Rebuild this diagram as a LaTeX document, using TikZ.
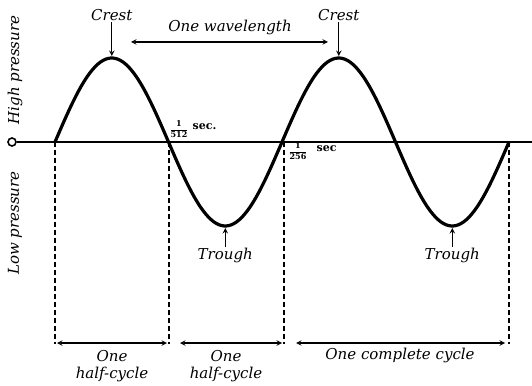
\documentclass[tikz,border=0pt]{standalone}
\usepackage{fontspec}
\usepackage{amsmath}
\setmainfont{DejaVu Serif}
\usetikzlibrary{positioning}
\begin{document}
\begin{tikzpicture}[x=1pt, y=1pt,
    wave/.style={line width=3.2pt, line join=round},
    axisline/.style={line width=2pt},
    guide/.style={line width=1.2pt, dash pattern=on 5pt off 3pt},
    span/.style={stealth-stealth, line width=1.4pt},
    pointer/.style={-stealth, line width=1.4pt},
    lbl/.style={font=\fontsize{15}{17}\selectfont\itshape, inner sep=1pt},
    small/.style={font=\fontsize{8}{9}\selectfont\bfseries, inner sep=0.5pt},
    unit/.style={font=\fontsize{11}{12}\selectfont\bfseries, inner sep=0.5pt}]
  \useasboundingbox (-55,-243) rectangle (477,142);

  % axis
  \node[draw, circle, line width=1.6pt, minimum size=8pt, inner sep=0pt] (origin) at (-43,0) {};
  \coordinate (axisend) at (477,0);
  \draw[axisline] (origin) -- (axisend);

  % the wave
  \draw[wave] plot[domain=0:454, samples=181, smooth] (\x, {84*sin(\x/227*360)});

  \coordinate (crestA) at (56.75,86);
  \coordinate (troughA) at (170.25,-86);
  \coordinate (crestB) at (283.75,86);
  \coordinate (troughB) at (397.25,-86);

  % dashed guides down to the cycle arrows
  \foreach \name/\xx in {zA/0, zB/114, zC/229, zD/454} {
    \coordinate (\name) at (\xx,0);
    \coordinate (\name low) at (\xx,-202);
    \draw[guide] (\name) -- (\name low);
  }

  % crests and troughs
  \node[lbl, above=34pt of crestA] (crestAlbl) {Crest};
  \node[lbl, above=34pt of crestB] (crestBlbl) {Crest};
  \draw[pointer] (crestAlbl) -- (crestA);
  \draw[pointer] (crestBlbl) -- (crestB);
  \node[lbl, below=19pt of troughA] (troughAlbl) {Trough};
  \node[lbl, below=19pt of troughB] (troughBlbl) {Trough};
  \draw[pointer] (troughAlbl) -- (troughA);
  \draw[pointer] (troughBlbl) -- (troughB);

  % wavelength
  \node[lbl] (wavelbl) at (175,115) {One wavelength};
  \coordinate (waveL) at (76,100);
  \coordinate (waveR) at (273,100);
  \draw[span] (waveL) -- (waveR);

  % times
  \node[small] (fracA) at (124,13) {$\dfrac{\mathbf{1}}{\mathbf{512}}$};
  \node[unit, anchor=west] (secA) at (137,15) {sec.};
  \node[small] (fracB) at (243,-9) {$\dfrac{\mathbf{1}}{\mathbf{256}}$};
  \node[unit, anchor=west] (secB) at (261,-7) {sec};

  % cycles
  \coordinate (hAL) at (2,-201);
  \coordinate (hAR) at (112,-201);
  \coordinate (hBL) at (125,-201);
  \coordinate (hBR) at (227,-201);
  \coordinate (cL) at (241,-201);
  \coordinate (cR) at (450,-201);
  \draw[span] (hAL) -- (hAR);
  \draw[span] (hBL) -- (hBR);
  \draw[span] (cL) -- (cR);
  \node[lbl, align=center] (halfA) at (57,-224) {One\\half-cycle};
  \node[lbl, align=center] (halfB) at (171,-224) {One\\half-cycle};
  \node[lbl] (full) at (345,-213) {One complete cycle};

  % pressure labels
  \node[lbl, rotate=90] (high) at (-40,72) {High pressure};
  \node[lbl, rotate=90] (low) at (-40,-81) {Low pressure};
\end{tikzpicture}
\end{document}
